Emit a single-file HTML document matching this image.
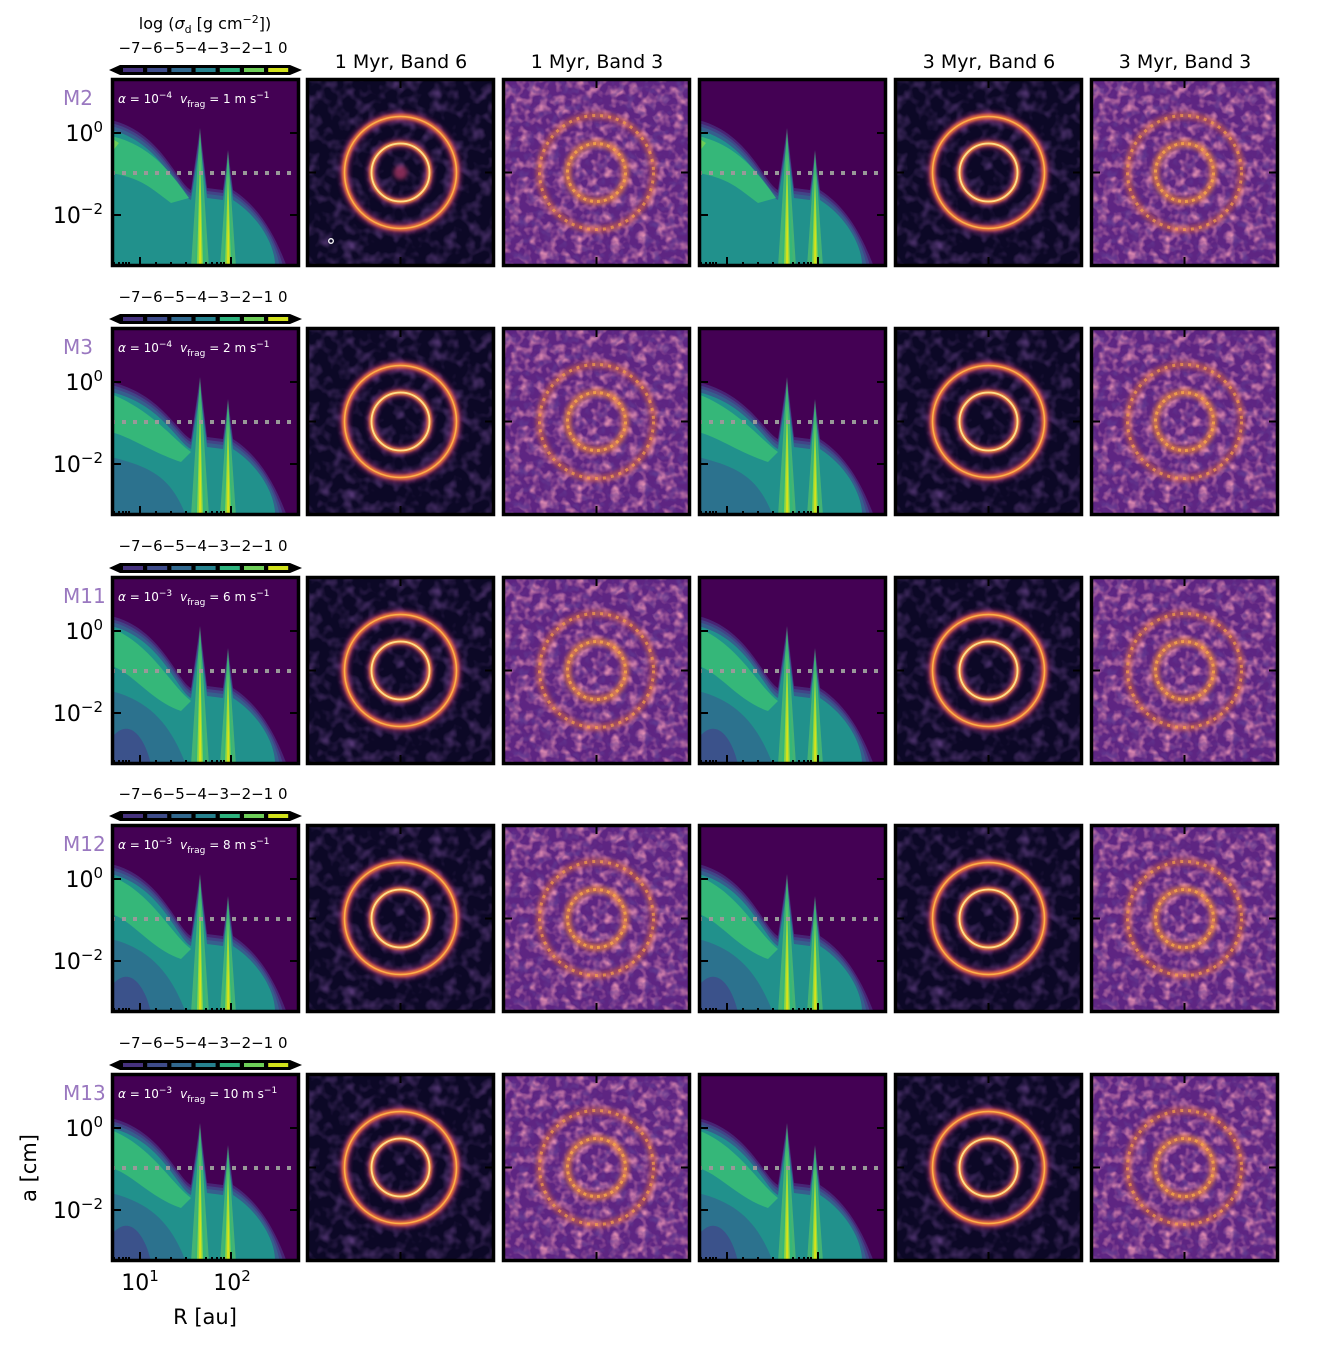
<!DOCTYPE html>
<html><head><meta charset="utf-8"><style>
html,body{margin:0;padding:0;background:#fff;}
svg{display:block;font-family:"DejaVu Sans","Liberation Sans",sans-serif;}
</style></head><body>
<svg id="s" width="1336" height="1352" viewBox="0 0 1336 1352" xmlns="http://www.w3.org/2000/svg">
<defs>
<filter id="n3" x="0" y="0" width="100%" height="100%">
<feTurbulence type="fractalNoise" baseFrequency="0.11" numOctaves="2" seed="3" result="t"/>
<feColorMatrix in="t" type="matrix" values="0 0 0 0 0.78  0 0 0 0 0.28  0 0 0 0 0.45  2.4 0 0 0 -1.05"/>
</filter>
<filter id="d3" x="0" y="0" width="100%" height="100%">
<feTurbulence type="fractalNoise" baseFrequency="0.12" numOctaves="2" seed="11" result="t"/>
<feColorMatrix in="t" type="matrix" values="0 0 0 0 0.12  0 0 0 0 0.04  0 0 0 0 0.28  2.6 0 0 0 -1.3"/>
</filter>
<filter id="n6" x="0" y="0" width="100%" height="100%">
<feTurbulence type="fractalNoise" baseFrequency="0.08" numOctaves="2" seed="7" result="t"/>
<feColorMatrix in="t" type="matrix" values="0 0 0 0 0.25  0 0 0 0 0.1  0 0 0 0 0.42  1.3 0 0 0 -0.6"/>
</filter>
<filter id="bl" x="-20%" y="-20%" width="140%" height="140%"><feGaussianBlur stdDeviation="2.2"/></filter>
<filter id="bl2" x="-20%" y="-20%" width="140%" height="140%"><feGaussianBlur stdDeviation="1.2"/></filter>
</defs>
<g id="g"></g>
</svg>
<script>
var g=document.getElementById('g'),h='';
var cols=[111,306,502,698,894,1090],W=189,H=189;
var rows=[78,327,576,824,1073];
var labels=['M2','M3','M11','M12','M13'];
var al=['−4','−4','−3','−3','−3'],vf=['1','2','6','8','10'];
var y0s=[42,55,40,40,45];
function contour(x,y,r){
 var s='<g transform="translate('+x+','+y+')"><rect width="'+W+'" height="'+H+'" fill="#440154"/>';
 var y0=y0s[r];
 var fills=['#482475','#414487','#355f8d','#21918c'];
 var off=[0,3,6,10];
 for(var i=0;i<4;i++){
  var o=off[i];
  s+='<path fill="'+fills[i]+'" d="M0,'+(y0+o)+' C50,'+(y0+12+o)+' 66,'+(105+o)+' 80,'+(112+o)+' L89,'+(50+o*1.5)+' L96,'+(110+o)+' L112,'+(112+o)+' L117,'+(72+o*1.5)+' L122,'+(112+o)+' C150,'+(130+o)+' 165,'+(160+o)+' '+(176-o*1.2)+','+H+' L0,'+H+' Z"/>';
 }
 if(r==0){s+='<path fill="#35b779" d="M0,'+(y0+16)+' C40,'+(y0+25)+' 60,95 78,120 L60,125 C40,110 30,100 0,95Z"/><path fill="#6ece58" d="M0,60 L8,65 L0,75Z"/>';}
 else{s+='<path fill="#35b779" d="M0,'+(y0+12)+' C40,'+(y0+28)+' 60,110 80,125 L70,135 C40,125 20,'+(y0+55)+' 0,'+(y0+50)+'Z"/><path fill="#2c728e" d="M0,'+(y0+75)+' C40,'+(y0+85)+' 60,150 75,189 L0,189Z"/>';
  if(r>=2)s+='<path fill="#3b528b" d="M2,160 C20,140 35,165 40,189 L0,189Z"/>';}
 s+='<path fill="#5ec962" opacity="0.6" d="M80,189 L89,50 L98,189Z"/><path fill="#35b779" d="M84,189 L89,55 L95,189Z"/><path fill="#8fd744" d="M86,189 L89,75 L92,189Z"/><path fill="#d8e219" d="M88,189 L89,90 L90.5,189Z"/>';
 s+='<path fill="#5ec962" opacity="0.6" d="M109,189 L117,72 L125,189Z"/><path fill="#35b779" d="M112,189 L117,75 L122,189Z"/><path fill="#8fd744" d="M114,189 L117,92 L120,189Z"/><path fill="#d8e219" d="M116,189 L117,110 L118.5,189Z"/>';
 s+='<line x1="0" y1="95" x2="'+W+'" y2="95" stroke="#999" stroke-width="4" stroke-dasharray="4,7"/>';
 s+='<g stroke="#000" stroke-width="2"><line x1="0" y1="55" x2="10" y2="55"/><line x1="0" y1="137" x2="10" y2="137"/><line x1="'+W+'" y1="55" x2="'+(W-10)+'" y2="55"/><line x1="'+W+'" y1="137" x2="'+(W-10)+'" y2="137"/>';
 var mx=[3,8,12,15,18,45,60,75,95,101,106,110,113];
 for(var k=0;k<mx.length;k++){s+='<line x1="'+mx[k]+'" y1="'+H+'" x2="'+mx[k]+'" y2="'+(H-5)+'"/>';}
 s+='<line x1="29" y1="'+H+'" x2="29" y2="'+(H-10)+'"/><line x1="120" y1="'+H+'" x2="120" y2="'+(H-10)+'"/></g>';
 s+='<rect x="1.5" y="1.5" width="'+(W-3)+'" height="'+(H-3)+'" fill="none" stroke="#000" stroke-width="3.5"/></g>';
 return s;
}
function img(x,y,b3,r){
 var cx=W/2,cy=H/2;
 var s='<g transform="translate('+x+','+y+')">';
 if(b3){
  s+='<rect width="'+W+'" height="'+H+'" fill="#5e2582"/><rect width="'+W+'" height="'+H+'" filter="url(#n3)"/><rect width="'+W+'" height="'+H+'" filter="url(#d3)"/>';
  s+='<circle cx="'+cx+'" cy="'+cy+'" r="57" fill="none" stroke="#e8703a" stroke-width="7" opacity="0.55" filter="url(#bl)"/>';
  s+='<circle cx="'+cx+'" cy="'+cy+'" r="29" fill="none" stroke="#f58a3a" stroke-width="7" opacity="0.75" filter="url(#bl)"/>';
  s+='<circle cx="'+cx+'" cy="'+cy+'" r="57" fill="none" stroke="#f6a04a" stroke-width="3" stroke-dasharray="3,5" opacity="0.7"/>';
  s+='<circle cx="'+cx+'" cy="'+cy+'" r="29" fill="none" stroke="#f8a94a" stroke-width="3" stroke-dasharray="3,4" opacity="0.8"/>';
 }else{
  s+='<rect width="'+W+'" height="'+H+'" fill="#0c0826"/><rect width="'+W+'" height="'+H+'" filter="url(#n6)"/>';
  s+='<circle cx="'+cx+'" cy="'+cy+'" r="56" fill="none" stroke="#b5367a" stroke-width="10" opacity="0.6" filter="url(#bl)"/>';
  s+='<circle cx="'+cx+'" cy="'+cy+'" r="56" fill="none" stroke="#f0743a" stroke-width="5" filter="url(#bl2)"/>';
  s+='<circle cx="'+cx+'" cy="'+cy+'" r="56" fill="none" stroke="#fbb04a" stroke-width="1.5"/>';
  s+='<circle cx="'+cx+'" cy="'+cy+'" r="29" fill="none" stroke="#b5367a" stroke-width="9" opacity="0.6" filter="url(#bl)"/>';
  s+='<circle cx="'+cx+'" cy="'+cy+'" r="29" fill="none" stroke="#f8883a" stroke-width="4.5" filter="url(#bl2)"/>';
  s+='<circle cx="'+cx+'" cy="'+cy+'" r="29" fill="none" stroke="#fde08a" stroke-width="1.8"/>';
  if(r==0&&x==306){s+='<circle cx="'+cx+'" cy="'+cy+'" r="7" fill="#b83a6a" opacity="0.7" filter="url(#bl)"/><circle cx="25" cy="163" r="2.3" fill="none" stroke="#fff" stroke-width="1.3"/>';}
 }
 s+='<g stroke="#000" stroke-width="2"><line x1="0" y1="'+cy+'" x2="10" y2="'+cy+'"/><line x1="'+W+'" y1="'+cy+'" x2="'+(W-10)+'" y2="'+cy+'"/><line x1="'+cx+'" y1="0" x2="'+cx+'" y2="10"/><line x1="'+cx+'" y1="'+H+'" x2="'+cx+'" y2="'+(H-10)+'"/></g>';
 s+='<rect x="1.5" y="1.5" width="'+(W-3)+'" height="'+(H-3)+'" fill="none" stroke="#000" stroke-width="3.5"/></g>';
 return s;
}
var cb=['#46327e','#3e4c8a','#31688e','#26828e','#2db27d','#6ece58','#d2e21b'];
for(var r=0;r<5;r++){
 var y=rows[r];
 h+=contour(cols[0],y,r);h+=contour(cols[3],y,r);
 h+=img(cols[1],y,0,r);h+=img(cols[2],y,1,r);h+=img(cols[4],y,0,r);h+=img(cols[5],y,1,r);
 var cy=y-8;
 h+='<path d="M109,'+cy+' L120,'+(cy-5)+' L290,'+(cy-5)+' L302,'+cy+' L290,'+(cy+5)+' L120,'+(cy+5)+'Z" fill="#000"/>';
 for(var k=0;k<7;k++)h+='<rect x="'+(123+k*24.2)+'" y="'+(cy-2)+'" width="20" height="4" fill="'+cb[k]+'"/>';
 h+='<text x="203" y="'+(y-25)+'" font-size="15" text-anchor="middle">−7−6−5−4−3−2−1 0</text>';
 h+='<text x="63" y="'+(y+27)+'" font-size="20" fill="#9a78c0">'+labels[r]+'</text>';
 h+='<text x="118" y="'+(y+25)+'" font-size="12" fill="#fff"><tspan font-style="italic">α</tspan> = 10<tspan dy="-5" font-size="9">'+al[r]+'</tspan><tspan dy="5" dx="8" font-style="italic">v</tspan><tspan dy="4" font-size="9">frag</tspan><tspan dy="-4"> = '+vf[r]+' m s</tspan><tspan dy="-5" font-size="9">−1</tspan></text>';
 h+='<text x="103" y="'+(y+63)+'" font-size="22" text-anchor="end">10<tspan dy="-9" font-size="15">0</tspan></text>';
 h+='<text x="103" y="'+(y+145)+'" font-size="22" text-anchor="end">10<tspan dy="-9" font-size="15">−2</tspan></text>';
}
h+='<text x="205" y="29" font-size="16" text-anchor="middle">log  (<tspan font-style="italic">σ</tspan><tspan dy="4" font-size="11">d</tspan><tspan dy="-4"> [g cm</tspan><tspan dy="-6" font-size="11">−2</tspan><tspan dy="6">])</tspan></text>';
var tt=[['1 Myr, Band 6',401],['1 Myr, Band 3',597],['3 Myr, Band 6',989],['3 Myr, Band 3',1185]];
for(var i=0;i<4;i++)h+='<text x="'+tt[i][1]+'" y="68" font-size="19" text-anchor="middle">'+tt[i][0]+'</text>';
h+='<text x="140" y="1290" font-size="22" text-anchor="middle">10<tspan dy="-9" font-size="15">1</tspan></text>';
h+='<text x="232" y="1290" font-size="22" text-anchor="middle">10<tspan dy="-9" font-size="15">2</tspan></text>';
h+='<text x="205" y="1324" font-size="21" text-anchor="middle">R [au]</text>';
h+='<text transform="translate(36,1168) rotate(-90)" font-size="21" text-anchor="middle">a [cm]</text>';
g.innerHTML=h;
</script>
</body></html>
